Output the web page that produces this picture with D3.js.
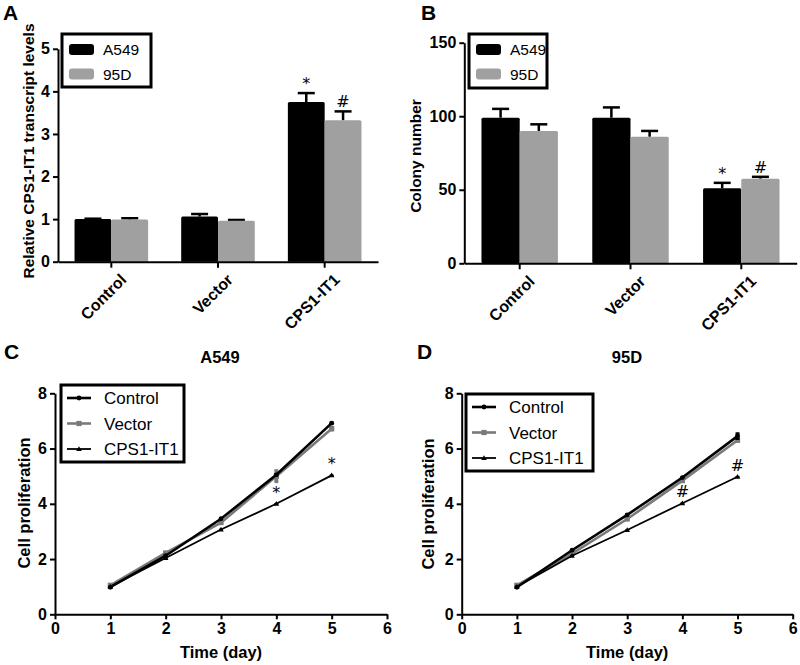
<!DOCTYPE html>
<html><head><meta charset="utf-8">
<script src="https://cdn.jsdelivr.net/npm/d3@7"></script>
<style>
body{margin:0;background:#fff;}
svg{display:block;font-family:"Liberation Sans",Arial,sans-serif;}
</style></head>
<body>
<svg id="chart" width="800" height="665"></svg>
<script>
// ---------- data ----------
const categories = ["Control", "Vector", "CPS1-IT1"];
const barSeries = ["A549", "95D"];
const barColors = ["#000000", "#a0a0a0"];

// Panel A: relative CPS1-IT1 transcript levels
const aA549 = [1.00, 1.06, 3.75];
const aA549Err = [0.01, 0.06, 0.21];
const a95D = [0.99, 0.96, 3.32];
const a95DErr = [0.03, 0.02, 0.21];
const aTicks = [0, 1, 2, 3, 4, 5];

// Panel B: colony number
const bA549 = [99, 99, 51];
const bA549Err = [6, 7, 3.7];
const b95D = [90, 86, 57.5];
const b95DErr = [4.5, 4, 1.3];
const bTicks = [0, 50, 100, 150];

// Panels C, D: cell proliferation
const days = [1, 2, 3, 4, 5];
const lineSeries = ["Control", "Vector", "CPS1-IT1"];
const cControl = [0.98, 2.12, 3.46, 5.05, 6.92];
const cControlErr = [0.03, 0.05, 0.05, 0.05, 0.06];
const cVector = [1.05, 2.22, 3.32, 5.00, 6.72];
const cVectorErr = [0.04, 0.06, 0.08, 0.25, 0.10];
const cCPS = [1.00, 2.04, 3.07, 4.00, 5.03];
const cCPSErr = [0.02, 0.03, 0.03, 0.03, 0.03];
const dControl = [0.98, 2.32, 3.60, 4.95, 6.45];
const dControlErr = [0.03, 0.04, 0.05, 0.04, 0.14];
const dVector = [1.05, 2.20, 3.45, 4.84, 6.30];
const dVectorErr = [0.04, 0.08, 0.06, 0.06, 0.08];
const dCPS = [1.00, 2.12, 3.05, 4.02, 4.98];
const dCPSErr = [0.02, 0.03, 0.03, 0.03, 0.03];
const xTicksLine = [0, 1, 2, 3, 4, 5, 6];
const yTicksLine = [0, 2, 4, 6, 8];

const svg = d3.select("#chart");
const FONT = "'Liberation Sans', Arial, sans-serif";
const fmt = d3.format("d");

function panelLetter(t, x, y) {
  svg.append("text").attr("x", x).attr("y", y).text(t)
    .attr("font-size", 21).attr("font-weight", "bold").attr("fill", "#000");
}

function yAxis(g, y, x0, ticks) {
  const ax = g.append("g").attr("transform", `translate(${x0},0)`)
    .call(d3.axisLeft(y).tickValues(ticks).tickFormat(fmt).tickSize(5).tickSizeOuter(0).tickPadding(3));
  ax.select(".domain").attr("stroke", "#000").attr("stroke-width", 2);
  ax.selectAll(".tick line").attr("stroke", "#000").attr("stroke-width", 2);
  ax.selectAll(".tick text").attr("font-size", 16).attr("font-weight", "bold")
    .attr("font-family", FONT).attr("fill", "#000");
  return ax;
}

function yTitle(text, x, y, size) {
  svg.append("text").attr("transform", `translate(${x},${y}) rotate(-90)`)
    .attr("text-anchor", "middle").attr("font-size", size || 14.5).attr("font-weight", "bold")
    .text(text);
}

function barPanel(opts) {
  const {x0, x1, yDomain, yRange, ticks, s1, s1e, s2, s2e, marks, legend} = opts;
  const g = svg.append("g");
  const x = d3.scaleBand().domain(categories).range([x0, x1]).paddingInner(0).paddingOuter(0);
  const gw = x.bandwidth() * 0.69;
  const xs = d3.scaleBand().domain(barSeries).range([0, gw]).padding(0);
  const y = d3.scaleLinear().domain(yDomain).range(yRange);
  const vals = [s1, s2], errs = [s1e, s2e];
  barSeries.forEach((s, si) => {
    categories.forEach((c, ci) => {
      const bx = x(c) + (x.bandwidth() - gw) / 2 + xs(s);
      const v = vals[si][ci], e = errs[si][ci];
      const cx = bx + xs.bandwidth() / 2;
      g.append("line").attr("x1", cx).attr("x2", cx).attr("y1", y(v)).attr("y2", y(v + e))
        .attr("stroke", "#000").attr("stroke-width", 2.5);
      g.append("line").attr("x1", cx - 8.5).attr("x2", cx + 8.5).attr("y1", y(v + e)).attr("y2", y(v + e))
        .attr("stroke", "#000").attr("stroke-width", 2.5);
      g.append("rect").attr("x", bx).attr("y", y(v)).attr("width", xs.bandwidth())
        .attr("height", y(0) - y(v)).attr("fill", barColors[si]).attr("rx", 1.5);
      if (marks[si][ci]) {
        g.append("text").attr("x", cx).attr("y", y(v + e) - 4).attr("text-anchor", "middle")
          .attr("font-size", 16).attr("font-family", "'DejaVu Sans', sans-serif").text(marks[si][ci]);
      }
    });
  });
  yAxis(g, y, x0, ticks);
  const ax = g.append("g").attr("transform", `translate(0,${y(0)})`)
    .call(d3.axisBottom(x).tickSize(6).tickSizeOuter(0).tickPadding(4));
  ax.select(".domain").attr("stroke", "#000").attr("stroke-width", 2);
  ax.selectAll(".tick line").attr("stroke", "#000").attr("stroke-width", 2);
  ax.selectAll(".tick text").attr("font-size", 16).attr("font-weight", "bold").attr("font-family", FONT)
    .attr("text-anchor", "end").attr("transform", "translate(5,8) rotate(-45)").attr("dy", "0.35em").attr("fill", "#000");
  const {lx, ly, lw, lh} = legend;
  g.append("rect").attr("x", lx).attr("y", ly).attr("width", lw).attr("height", lh)
    .attr("fill", "#fff").attr("stroke", "#000").attr("stroke-width", 3);
  barSeries.forEach((s, i) => {
    const ry = ly + 10 + i * 24.5;
    g.append("rect").attr("x", lx + 7).attr("y", ry).attr("width", 25).attr("height", 11)
      .attr("rx", 3).attr("fill", barColors[i]);
    g.append("text").attr("x", lx + 41).attr("y", ry + 11).attr("font-size", 15.5).text(s);
  });
}

panelLetter("A", 3, 20);
barPanel({x0: 58, x1: 378, yDomain: [0, 5], yRange: [261.7, 48.8], ticks: aTicks,
  s1: aA549, s1e: aA549Err, s2: a95D, s2e: a95DErr,
  marks: [[null, null, "*"], [null, null, "#"]],
  legend: {lx: 62, ly: 34, lw: 89, lh: 53}});
yTitle("Relative CPS1-IT1 transcript levels", 34, 151, 15.5);

panelLetter("B", 421, 20);
barPanel({x0: 464.3, x1: 796.7, yDomain: [0, 150], yRange: [263.3, 42.7], ticks: bTicks,
  s1: bA549, s1e: bA549Err, s2: b95D, s2e: b95DErr,
  marks: [[null, null, "*"], [null, null, "#"]],
  legend: {lx: 469, ly: 34, lw: 78, lh: 54}});
yTitle("Colony number", 421, 156, 15.5);

// ---------- line panels ----------
const lineColors = ["#000000", "#7a7a7a", "#000000"];
const lineWidths = [2.6, 2.6, 1.8];

function marker(g, type, x, y, color) {
  if (type === 0) g.append("circle").attr("cx", x).attr("cy", y).attr("r", 2.4).attr("fill", color);
  else if (type === 1) g.append("rect").attr("x", x - 2.6).attr("y", y - 2.6).attr("width", 5.2).attr("height", 5.2).attr("fill", color);
  else g.append("path").attr("d", `M${x},${y - 2.8}L${x + 2.8},${y + 2}L${x - 2.8},${y + 2}Z`).attr("fill", color);
}

function linePanel(opts) {
  const {xr, yr, series, errs, title, titleX, mark, legend} = opts;
  const g = svg.append("g");
  const x = d3.scaleLinear().domain([0, 6]).range(xr);
  const y = d3.scaleLinear().domain([0, 8]).range(yr);
  const line = d3.line().x((d, i) => x(days[i])).y(d => y(d));
  [1, 0, 2].forEach(si => {
    g.append("path").attr("d", line(series[si])).attr("fill", "none")
      .attr("stroke", lineColors[si]).attr("stroke-width", lineWidths[si]);
    series[si].forEach((v, i) => {
      const e = errs[si][i];
      g.append("line").attr("x1", x(days[i])).attr("x2", x(days[i]))
        .attr("y1", y(v - e)).attr("y2", y(v + e)).attr("stroke", lineColors[si]).attr("stroke-width", 4);
      marker(g, si, x(days[i]), y(v), lineColors[si]);
    });
  });
  [3, 4].forEach(i => {
    g.append("text").attr("x", x(days[i])).attr("y", y(series[2][i]) - 6).attr("text-anchor", "middle")
      .attr("font-size", 16).attr("font-family", "'DejaVu Sans', sans-serif").text(mark);
  });
  yAxis(g, y, xr[0], yTicksLine);
  const xa = g.append("g").attr("transform", `translate(0,${yr[0]})`)
    .call(d3.axisBottom(x).tickValues(xTicksLine).tickFormat(fmt).tickSize(5).tickSizeOuter(0).tickPadding(3));
  xa.select(".domain").attr("stroke", "#000").attr("stroke-width", 2);
  xa.selectAll(".tick line").attr("stroke", "#000").attr("stroke-width", 2);
  xa.selectAll(".tick text").attr("font-size", 16).attr("font-weight", "bold").attr("font-family", FONT).attr("fill", "#000");
  svg.append("text").attr("x", x(3)).attr("y", 658).attr("text-anchor", "middle")
    .attr("font-size", 16.5).attr("font-weight", "bold").text("Time (day)");
  svg.append("text").attr("x", titleX).attr("y", 363).attr("text-anchor", "middle")
    .attr("font-size", 16.5).attr("font-weight", "bold").text(title);
  const {lx, ly, lw, lh} = legend;
  g.append("rect").attr("x", lx).attr("y", ly).attr("width", lw).attr("height", lh)
    .attr("fill", "#fff").attr("stroke", "#000").attr("stroke-width", 3);
  lineSeries.forEach((s, i) => {
    const ry = ly + 13 + i * 25.5;
    g.append("line").attr("x1", lx + 6).attr("x2", lx + 30).attr("y1", ry).attr("y2", ry)
      .attr("stroke", lineColors[i]).attr("stroke-width", lineWidths[i]);
    marker(g, i, lx + 18, ry, lineColors[i]);
    g.append("text").attr("x", lx + 43).attr("y", ry + 6).attr("font-size", 17).text(s);
  });
}

panelLetter("C", 4, 359);
linePanel({xr: [55, 387], yr: [614.3, 393.3], series: [cControl, cVector, cCPS],
  errs: [cControlErr, cVectorErr, cCPSErr], title: "A549", titleX: 220, mark: "*",
  legend: {lx: 61, ly: 385, lw: 123, lh: 77}});
yTitle("Cell proliferation", 30, 503, 16.5);

panelLetter("D", 417, 359);
linePanel({xr: [461.7, 792.7], yr: [614.3, 393.3], series: [dControl, dVector, dCPS],
  errs: [dControlErr, dVectorErr, dCPSErr], title: "95D", titleX: 627, mark: "#",
  legend: {lx: 466, ly: 394, lw: 127, lh: 77}});
yTitle("Cell proliferation", 434, 504, 16.5);
</script>
</body></html>
